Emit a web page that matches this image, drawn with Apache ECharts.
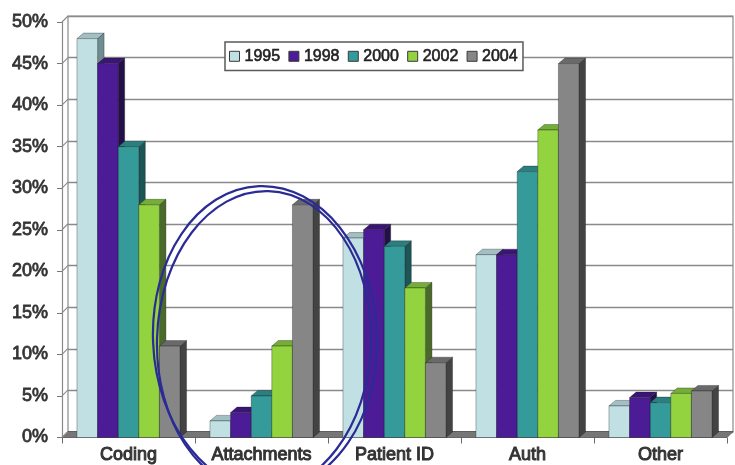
<!DOCTYPE html>
<html>
<head>
<meta charset="utf-8">
<script src="https://cdn.jsdelivr.net/npm/echarts@6/dist/echarts.min.js"></script>
<style>
  html, body { margin: 0; padding: 0; background: #ffffff; }
  #chart { width: 735px; height: 465px; }
</style>
</head>
<body>
<div id="chart"></div>
<script>
// Share of problem reports by area, per survey year
const categories = ['Coding', 'Attachments', 'Patient ID', 'Auth', 'Other'];
const years = ['1995', '1998', '2000', '2002', '2004'];
const v1995 = [48, 2, 24, 22, 3.8];
const v1998 = [45, 3, 25, 22, 4.8];
const v2000 = [35, 5, 23, 32, 4.2];
const v2002 = [28, 11, 18, 37, 5.3];
const v2004 = [11, 28, 9, 45, 5.6];
const yTicks = [0, 5, 10, 15, 20, 25, 30, 35, 40, 45, 50];

const seriesValues = [v1995, v1998, v2000, v2002, v2004];

// front / top / side shading for each year's 3D block
const faceColors = [
  { front: '#c1e0e4', top: '#a2c0c4', side: '#6f8d91' },
  { front: '#4b1c95', top: '#3a1575', side: '#230f49' },
  { front: '#349a9a', top: '#2a8081', side: '#1b5556' },
  { front: '#93d33f', top: '#74ae36', side: '#4a6a2b' },
  { front: '#868686', top: '#6a6a6a', side: '#434343' }
];

const DX = 6.5, DY = -5.5;      // depth offset of the 3D blocks
const WALL_DX = 6, WALL_DY = -6; // depth offset of the back wall
const BAR_FRAC = 0.155;          // block width as part of a category band
const EDGE = 'rgba(25,25,25,0.55)';

function blockRenderer(idx) {
  return function (params, api) {
    const cat = api.value(0);
    const val = api.value(1);
    const top = api.coord([cat, val]);
    const base = api.coord([cat, 0]);
    const band = api.size([1, 0])[0];
    const w = band * BAR_FRAC;
    const x0 = top[0] - 2.5 * w + idx * w;
    const x1 = x0 + w;
    const yt = top[1], yb = base[1];
    const c = faceColors[idx];
    return {
      type: 'group',
      children: [
        { type: 'polygon',
          shape: { points: [[x1, yb], [x1 + DX, yb + DY], [x1 + DX, yt + DY], [x1, yt]] },
          style: { fill: c.side, stroke: EDGE, lineWidth: 0.6 } },
        { type: 'polygon',
          shape: { points: [[x0, yt], [x1, yt], [x1 + DX, yt + DY], [x0 + DX, yt + DY]] },
          style: { fill: c.top, stroke: EDGE, lineWidth: 0.6 } },
        { type: 'rect',
          shape: { x: x0, y: yt, width: w, height: yb - yt },
          style: { fill: c.front, stroke: EDGE, lineWidth: 0.6 } }
      ]
    };
  };
}

const blockSeries = years.map((y, i) => ({
  name: y,
  type: 'custom',
  xAxisIndex: 0,
  yAxisIndex: 0,
  z: 3,
  itemStyle: { color: faceColors[i].front },
  encode: { x: 0, y: 1 },
  data: categories.map((c, k) => [k, seriesValues[i][k]]),
  renderItem: blockRenderer(i)
}));

// floor slab between the front baseline and the back wall
const floorSeries = {
  type: 'custom',
  xAxisIndex: 0,
  yAxisIndex: 0,
  z: 1,
  silent: true,
  data: [[0, 0]],
  renderItem: function (params, api) {
    const cs = params.coordSys;
    const yb = api.coord([0, 0])[1];
    const xl = cs.x, xr = cs.x + cs.width;
    return {
      type: 'polygon',
      shape: { points: [[xl, yb], [xr, yb], [xr + WALL_DX, yb + WALL_DY], [xl + WALL_DX, yb + WALL_DY]] },
      style: { fill: '#767676', stroke: '#4f4f4f', lineWidth: 0.8 }
    };
  }
};

// left side wall: links each front tick to its back-wall gridline
const sideWallSeries = {
  type: 'custom',
  xAxisIndex: 0,
  yAxisIndex: 0,
  z: 1,
  silent: true,
  data: yTicks.map(v => [0, v]),
  renderItem: function (params, api) {
    const cs = params.coordSys;
    const y = api.coord([0, api.value(1)])[1];
    return {
      type: 'line',
      shape: { x1: cs.x, y1: y, x2: cs.x + WALL_DX, y2: y + WALL_DY },
      style: { stroke: '#8a8a8a', lineWidth: 1.1 }
    };
  }
};

const labelFont = {
  color: '#333333',
  fontFamily: "'Liberation Sans', Arial, sans-serif",
  fontSize: 18,
  textBorderColor: '#333333',
  textBorderWidth: 0.8
};

const chart = echarts.init(document.getElementById('chart'), null, { renderer: 'canvas' });

chart.setOption({
  animation: false,
  backgroundColor: '#ffffff',
  grid: [
    { left: 62, right: 8, top: 22, bottom: 27 },
    { left: 68, right: 2, top: 16, bottom: 33, show: true,
      borderColor: '#8a8a8a', borderWidth: 1.2, backgroundColor: 'transparent' }
  ],
  legend: {
    data: years,
    left: 225,
    top: 42,
    orient: 'horizontal',
    icon: 'rect',
    itemWidth: 10,
    itemHeight: 10,
    itemGap: 8,
    padding: [6, 5, 6, 4],
    backgroundColor: '#ffffff',
    borderColor: '#5a5a5a',
    borderWidth: 1.5,
    itemStyle: { borderColor: '#3a3a3a', borderWidth: 1 },
    textStyle: {
      color: '#222222',
      fontFamily: "'Liberation Sans', Arial, sans-serif",
      fontSize: 16,
      textBorderColor: '#222222',
      textBorderWidth: 0.6
    }
  },
  xAxis: [
    {
      gridIndex: 0,
      type: 'category',
      data: categories,
      boundaryGap: true,
      axisLine: { show: false },
      axisTick: { show: true, inside: false, length: 6, lineStyle: { color: '#6a6a6a', width: 1 } },
      axisLabel: Object.assign({ margin: 9, interval: 0 }, labelFont, { textBorderWidth: 1 }),
      splitLine: { show: false }
    },
    {
      gridIndex: 1,
      type: 'category',
      data: categories,
      show: false
    }
  ],
  yAxis: [
    {
      gridIndex: 0,
      type: 'value',
      min: 0,
      max: 50,
      interval: 5,
      axisLine: { show: true, lineStyle: { color: '#8a8a8a', width: 1.2 } },
      axisTick: { show: true, inside: false, length: 5, lineStyle: { color: '#777777', width: 1 } },
      axisLabel: Object.assign({ formatter: '{value}%', margin: 14 }, labelFont),
      splitLine: { show: false }
    },
    {
      gridIndex: 1,
      type: 'value',
      min: 0,
      max: 50,
      interval: 5,
      axisLine: { show: false },
      axisTick: { show: false },
      axisLabel: { show: false },
      splitLine: { show: true, lineStyle: { color: '#8a8a8a', width: 1.3 } }
    }
  ],
  series: [floorSeries, sideWallSeries].concat(blockSeries),
  graphic: {
    elements: [
      { type: 'ellipse', z: 100, silent: true,
        shape: { cx: 265, cy: 338, rx: 112, ry: 152 },
        originX: 265, originY: 338, rotation: 0.04,
        style: { fill: 'none', stroke: '#2b2b96', lineWidth: 2.2 } },
      { type: 'ellipse', z: 100, silent: true,
        shape: { cx: 264, cy: 341, rx: 107, ry: 150 },
        originX: 264, originY: 341, rotation: -0.03,
        style: { fill: 'none', stroke: '#2b2b96', lineWidth: 2.2 } }
    ]
  }
});
</script>
</body>
</html>
